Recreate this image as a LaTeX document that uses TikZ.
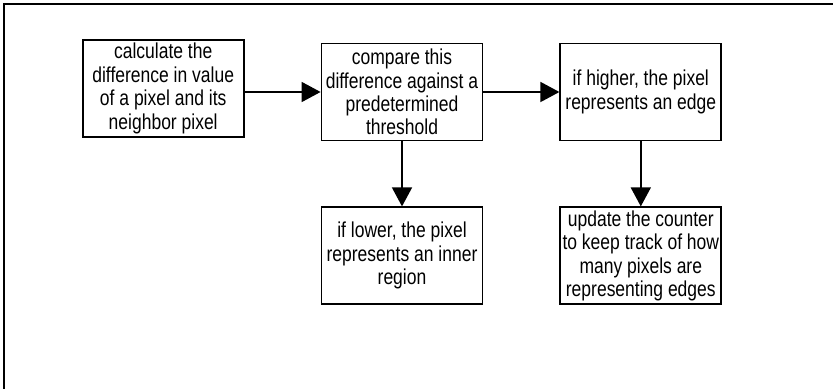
\documentclass[tikz,border=0pt]{standalone}
\usepackage{fontspec}
\setmainfont{Liberation Sans}[FakeStretch=0.81]
\usetikzlibrary{positioning, arrows.meta}

\begin{document}
\begin{tikzpicture}[
    x=0.5pt, y=-0.5pt,
    node distance=32.5pt and 38pt,
    stage/.style={rectangle, draw=black, line width=0.9pt, minimum width=80.5pt, minimum height=48.5pt, inner xsep=1pt, inner ysep=1pt, align=center, font=\fontsize{10.8pt}{11.7pt}\selectfont},
    flow/.style={-{Triangle[length=9.5pt, width=10pt]}, line width=0.8pt}
]
\useasboundingbox (0,0) rectangle (833,389);
\draw[line width=1pt] (833,4) -- (4,4) -- (4,389);

\node[stage] (compare) at (402,92) {compare this\\difference against a\\predetermined\\threshold};
\node[stage, left=of compare, yshift=1.75pt] (calc) {calculate the\\difference in value\\of a pixel and its\\neighbor pixel};
\node[stage, right=of compare] (higher) {if higher, the pixel\\represents an edge};
\node[stage, below=of compare] (lower) {if lower, the pixel\\represents an inner\\region};
\node[stage, below=of higher] (update) {update the counter\\to keep track of how\\many pixels are\\representing edges};

\draw[flow] (calc.east |- compare.west) -- (compare.west);
\draw[flow] (compare) -- (higher);
\draw[flow] (compare) -- (lower);
\draw[flow] (higher) -- (update);
\end{tikzpicture}
\end{document}
